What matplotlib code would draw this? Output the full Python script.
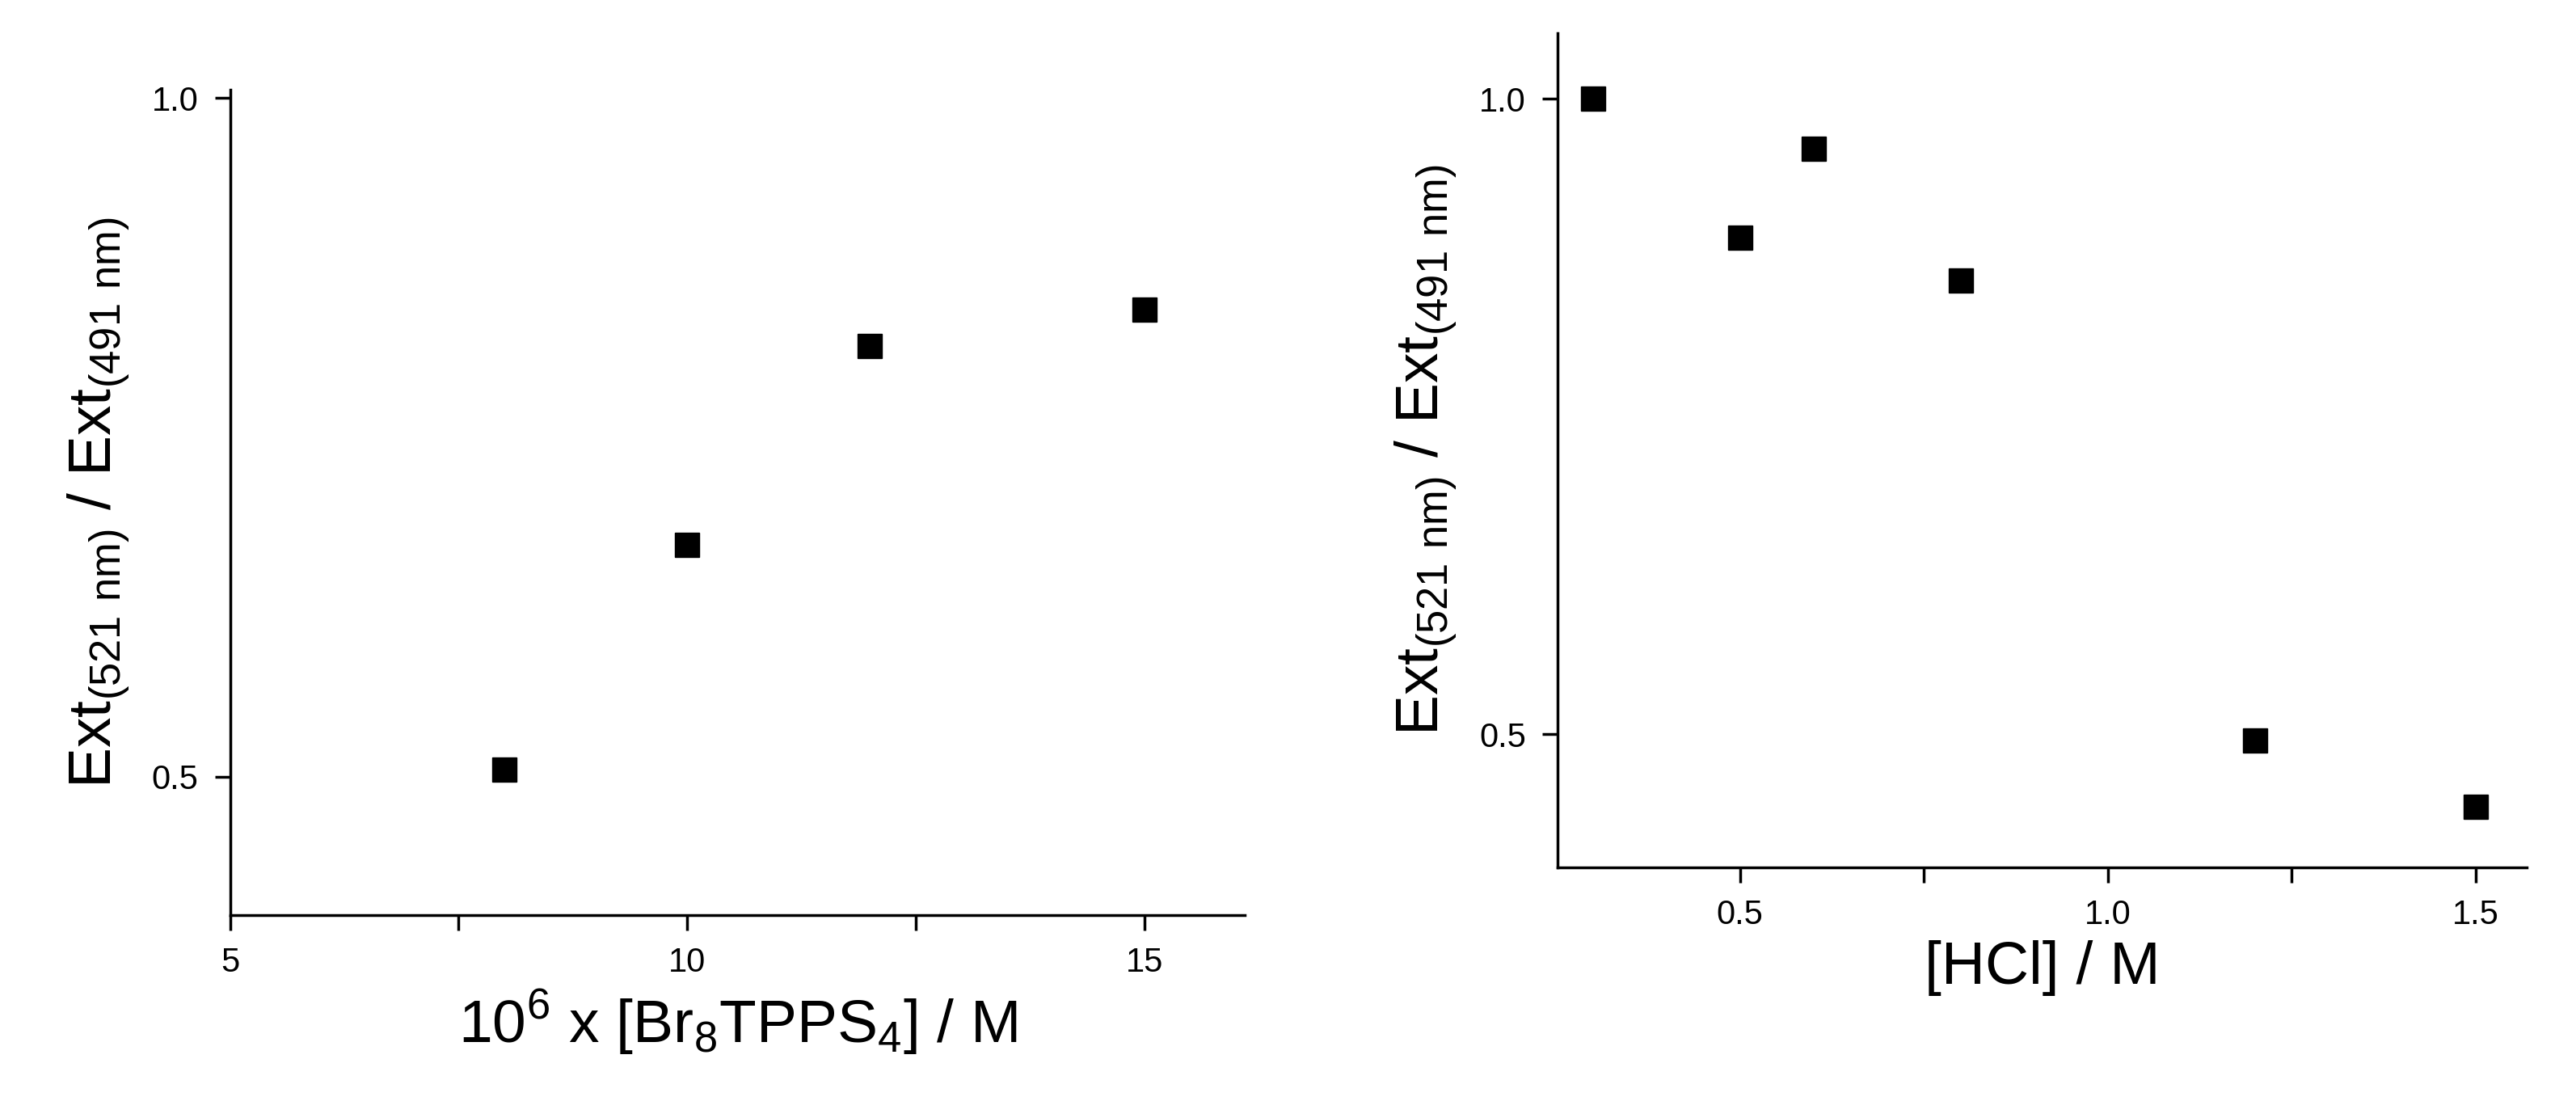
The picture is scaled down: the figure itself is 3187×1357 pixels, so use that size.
import matplotlib
matplotlib.use('Agg')
from matplotlib import pyplot as plt
from matplotlib.ticker import MultipleLocator

plt.rcParams['font.family'] = 'Liberation Sans'
plt.rcParams['mathtext.fontset'] = 'custom'
plt.rcParams['mathtext.rm'] = 'Liberation Sans'

# donnees
conc = [8, 10, 12, 15]                      # 10^6 x [Br8TPPS4] / M
ratio_conc = [0.505, 0.671, 0.817, 0.844]
hcl = [0.3, 0.5, 0.6, 0.8, 1.2, 1.5]        # [HCl] / M
ratio_hcl = [1.0, 0.891, 0.961, 0.857, 0.495, 0.443]

ylab = r'Ext$_{\mathregular{(521\ nm)}}$ / Ext$_{\mathregular{(491\ nm)}}$'

fig = plt.figure(figsize=(31.87, 13.57), dpi=100)
ax1 = fig.add_axes([0.0893, 0.166, 0.394, 0.752])
ax2 = fig.add_axes([0.6046, 0.209, 0.3764, 0.761])

for ax in (ax1, ax2):
    ax.spines['top'].set_visible(False)
    ax.spines['right'].set_visible(False)
    for s in ('left', 'bottom'):
        ax.spines[s].set_linewidth(2.5)
    ax.tick_params(which='both', direction='out', length=14, width=2.5,
                   labelsize=30, pad=14)
    ax.yaxis.set_major_locator(MultipleLocator(0.5))
    ax.set_ylabel(ylab, fontsize=54, labelpad=18)

ax1.plot(conc, ratio_conc, 's', color='black', markersize=22)
ax1.set_xlim(5, 16.1)
ax1.set_ylim(0.398, 1.006)
ax1.xaxis.set_major_locator(MultipleLocator(5))
ax1.xaxis.set_minor_locator(MultipleLocator(2.5))
ax1.set_xlabel(r'10$^{\mathregular{6}}$ x [Br$_{\mathregular{8}}$TPPS$_{\mathregular{4}}$] / M',
               fontsize=54, labelpad=8)

ax2.plot(hcl, ratio_hcl, 's', color='black', markersize=22)
ax2.set_xlim(0.252, 1.57)
ax2.set_ylim(0.395, 1.052)
ax2.xaxis.set_major_locator(MultipleLocator(0.5))
ax2.xaxis.set_minor_locator(MultipleLocator(0.25))
ax2.set_xlabel('[HCl] / M', fontsize=54, labelpad=8)

fig.savefig('out.png', dpi=100)
